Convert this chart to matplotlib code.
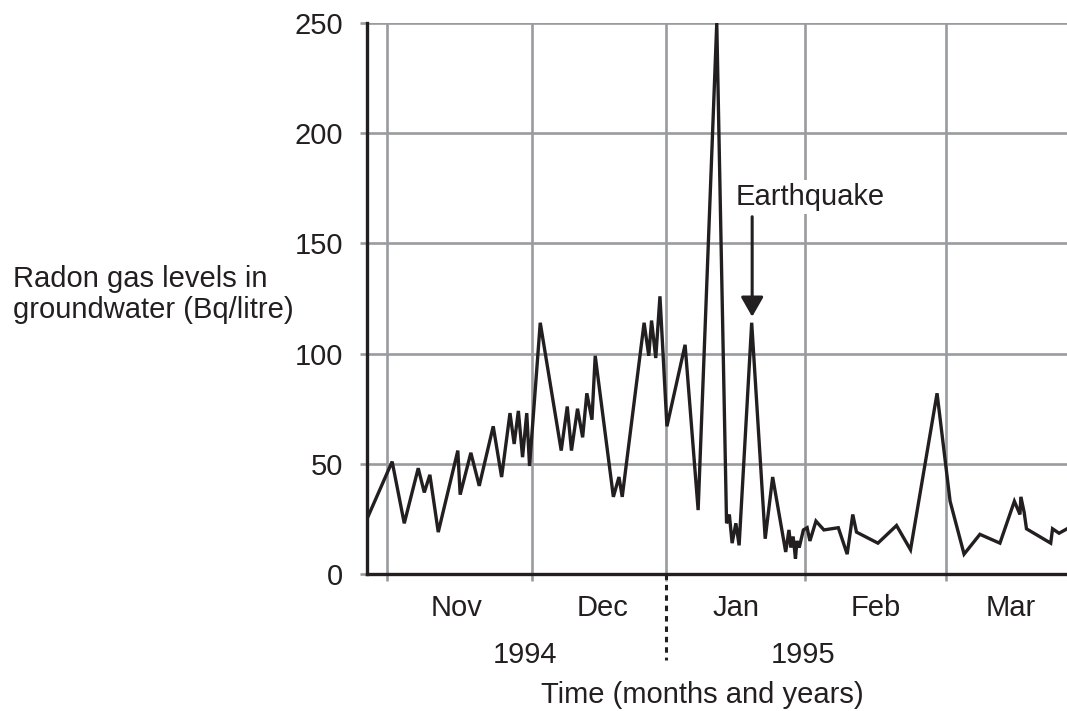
import matplotlib
matplotlib.use("Agg")
from matplotlib import pyplot as plt

# time axis in days counted from 1 Nov 1994
days = [-4.3, 1.1, 3.7, 6.7, 8.0, 9.2, 11.0, 15.2, 15.7, 18.0, 19.8, 22.8, 24.6,
        26.4, 27.3, 28.2, 29.1, 30.0, 30.6, 32.9, 37.4, 38.7, 39.6, 40.9, 42.0,
        42.9, 44.0, 44.7, 48.6, 49.8, 50.5, 55.2, 56.2, 56.8, 57.7, 58.6, 60.1,
        64.0, 66.8, 70.8, 72.9, 73.5, 74.1, 74.9, 75.6, 78.3, 81.2, 82.8, 85.6,
        86.3, 86.7, 87.2, 87.7, 88.0, 88.5, 89.4, 90.2, 90.8, 92.1, 93.8, 96.9,
        98.8, 100.0, 100.8, 105.4, 109.4, 112.4, 118.1, 120.9, 123.9, 127.3,
        131.6, 134.7, 135.9, 136.1, 136.8, 137.3, 142.5, 142.9, 144.3, 146.0]
radon = [25, 51, 23, 48, 37, 45, 19, 56, 36, 55, 40, 67, 44,
         73, 59, 74, 53, 73, 49, 114, 56, 76, 56, 75, 62,
         82, 70, 99, 35, 44, 35, 114, 99, 115, 98, 126, 67,
         104, 29, 250, 23, 27, 14, 23, 13, 114, 16, 44, 10,
         20, 12, 17, 7, 15, 12, 20, 21, 15, 24, 20, 21,
         9, 27, 19, 14, 22, 11, 82, 33, 9, 18,
         14, 33, 27, 35, 28, 20.5, 14, 20.5, 18.5, 20.5]

month_edges = [0, 31.1, 59.9, 89.7, 120.0]
month_names = ["Nov", "Dec", "Jan", "Feb", "Mar"]
month_mid = [15.0, 46.2, 74.9, 105.0, 134.0]
year_names = ["1994", "1995"]
year_mid = [29.7, 89.3]
y_ticks = [0, 50, 100, 150, 200, 250]

quake_day = 78.4
quake_tip = 116.7
quake_tail = 162.1

dark = "#231f20"
grey = "#999b9e"

plt.rcParams["font.family"] = ["Liberation Sans", "DejaVu Sans"]
plt.rcParams["font.size"] = 21

fig = plt.figure(figsize=(10.67, 7.11), dpi=100)
ax = fig.add_axes([367 / 1067, 137 / 711, 700 / 1067, 551 / 711])

ax.plot(days, radon, color=dark, lw=2.4, solid_joinstyle="miter", zorder=3)

ax.set_xlim(-4.3, 146.0)
ax.set_ylim(0, 250)

ax.set_yticks(y_ticks)
ax.set_xticks(month_edges)
ax.set_xticklabels([])
ax.tick_params(axis="y", length=5, width=1.9, color=grey, pad=12, labelcolor=dark)
ax.tick_params(axis="x", length=5, width=1.9, color=grey)
ax.grid(True, color=grey, lw=1.9, zorder=1)
ax.set_axisbelow(True)

for s in ["top", "right"]:
    ax.spines[s].set_visible(False)
for s in ["left", "bottom"]:
    ax.spines[s].set_color(dark)
    ax.spines[s].set_linewidth(2.4)
    ax.spines[s].set_zorder(4)

# year divider under the axis
ax.plot([month_edges[2], month_edges[2]], [0, -0.156], color=dark, lw=2.2,
        dashes=(1.8, 1.6), transform=ax.get_xaxis_transform(), clip_on=False)

tr = ax.get_xaxis_transform()
for name, x in zip(month_names, month_mid):
    ax.text(x, -0.0762, name, transform=tr, ha="center", va="baseline", color=dark)
for name, x in zip(year_names, year_mid):
    ax.text(x, -0.1615, name, transform=tr, ha="center", va="baseline", color=dark)
ax.text(67.8, -0.2341, "Time (months and years)", transform=tr, ha="center",
        va="baseline", color=dark)

fig.text(12.7 / 1067, (711 - 287) / 711, "Radon gas levels in", ha="left",
         va="baseline", color=dark)
fig.text(12.7 / 1067, (711 - 318) / 711, "groundwater (Bq/litre)", ha="left",
         va="baseline", color=dark)

# earthquake marker
ax.text(90.8, 167.4, "Earthquake", ha="center", va="baseline", color=dark, zorder=5,
        bbox=dict(facecolor="white", edgecolor="none", pad=2))
ax.annotate("", xy=(quake_day, quake_tip), xytext=(quake_day, quake_tail),
            arrowprops=dict(arrowstyle="-|>,head_length=1.0,head_width=0.57",
                            mutation_scale=12, lw=2.2, color=dark,
                            shrinkA=0, shrinkB=0), zorder=5)

fig.savefig("out.png", dpi=100)
